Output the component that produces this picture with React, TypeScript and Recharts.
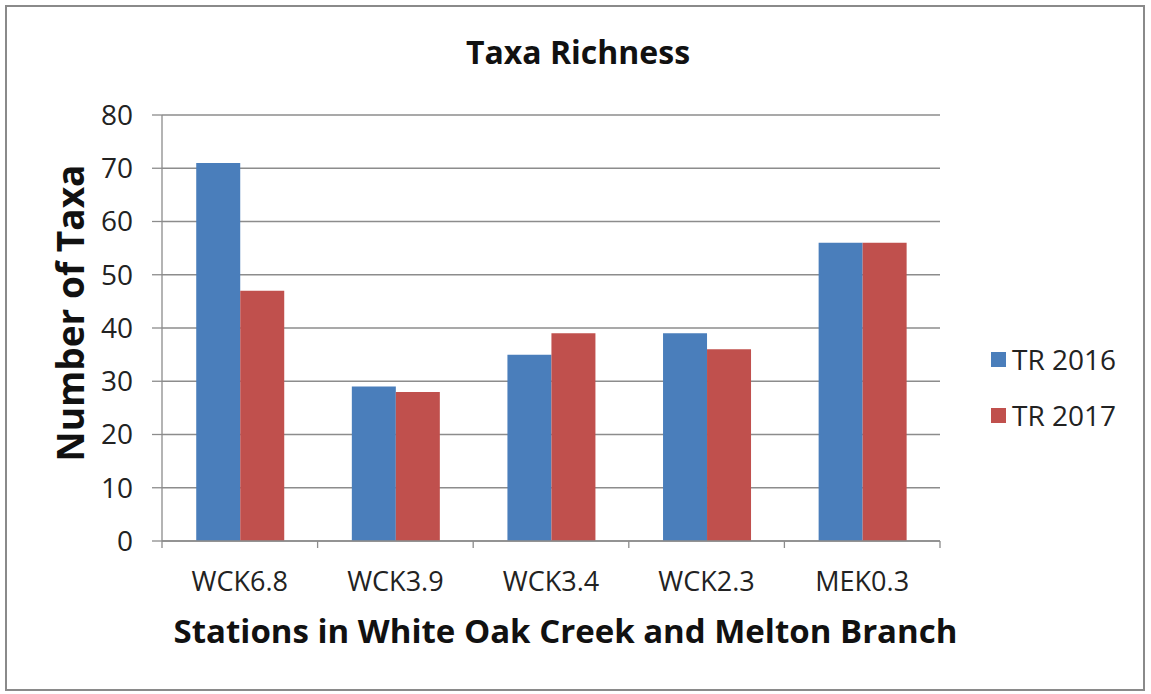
import React from 'react';
import { BarChart, Bar, XAxis, YAxis, CartesianGrid, Legend } from 'recharts';

const stations = ['WCK6.8', 'WCK3.9', 'WCK3.4', 'WCK2.3', 'MEK0.3'];
const tr2016 = [71, 29, 35, 39, 56];
const tr2017 = [47, 28, 39, 36, 56];
const yTicks = [0, 10, 20, 30, 40, 50, 60, 70, 80];

const seriesNames = ['TR 2016', 'TR 2017'];
const seriesColors = ['#4A7EBB', '#C0504D'];

const data = stations.map((s, i) => ({ station: s, tr2016: tr2016[i], tr2017: tr2017[i] }));

const FONT = '"Open Sans", "Noto Sans", sans-serif';
const GRID = '#8C8C8C';
const X_TICK_SIZE = 7;
const X_TICK_MARGIN = 24;

const LegendContent = () => (
  <div style={{ fontFamily: FONT }}>
    {seriesNames.map((n, i) => (
      <div key={n} style={{ display: 'flex', alignItems: 'center', height: 56 }}>
        <span style={{ display: 'inline-block', width: 15, height: 15, background: seriesColors[i], marginRight: 6 }} />
        <span style={{ fontSize: 28, color: '#222' }}>{n}</span>
      </div>
    ))}
  </div>
);

const StationTick = (props: any) => {
  const { x, y, payload, index, visibleTicksCount } = props;
  const half = payload && payload.offset ? payload.offset : 0;
  const axisY = y - X_TICK_SIZE - X_TICK_MARGIN;
  const last = index === visibleTicksCount - 1;
  return (
    <g>
      <line x1={x - half} x2={x - half} y1={axisY} y2={axisY + X_TICK_SIZE} stroke={GRID} strokeWidth={1.3} />
      {last && <line x1={x + half} x2={x + half} y1={axisY} y2={axisY + X_TICK_SIZE} stroke={GRID} strokeWidth={1.3} />}
      <text x={x} y={y} dy="0.71em" textAnchor="middle" fill="#222" fontSize={27} fontFamily={FONT}>
        {payload.value}
      </text>
    </g>
  );
};

export default function App() {
  return (
    <div style={{ position: 'absolute', left: 0, top: 0, width: 1151, height: 694, background: '#fff', fontFamily: FONT }}>
      <div style={{ position: 'absolute', left: 5, top: 5, width: 1140, height: 686, border: '2px solid #8A8A8A', boxSizing: 'border-box' }} />
      <div style={{ position: 'absolute', left: 0, width: 1156, top: 30, textAlign: 'center', fontWeight: 700, fontSize: 32, color: '#111', lineHeight: '44px' }}>
        Taxa Richness
      </div>
      <div style={{ position: 'absolute', left: 0, width: 1131, top: 606, textAlign: 'center', fontWeight: 700, fontSize: 33, color: '#111', lineHeight: '50px' }}>
        Stations in White Oak Creek and Melton Branch
      </div>
      <div style={{ position: 'absolute', left: 70, top: 313, width: 0, height: 0 }}>
        <div style={{ position: 'absolute', left: -250, top: -25, width: 500, height: 50, lineHeight: '50px', textAlign: 'center', transform: 'rotate(-90deg)', fontWeight: 700, fontSize: 37, color: '#111' }}>
          Number of Taxa
        </div>
      </div>
      <div style={{ position: 'absolute', left: 0, top: 0 }}>
        <BarChart
          width={1151}
          height={694}
          data={data}
          margin={{ top: 115, right: 211, bottom: 93, left: 0 }}
          barGap={0}
          barCategoryGap="22%"
        >
          <CartesianGrid horizontal vertical={false} stroke={GRID} strokeWidth={1.3} />
          <XAxis
            dataKey="station"
            height={60}
            tickLine={false}
            tickSize={X_TICK_SIZE}
            tickMargin={X_TICK_MARGIN}
            axisLine={{ stroke: GRID, strokeWidth: 1.3 }}
            tick={<StationTick />}
            interval={0}
          />
          <YAxis
            width={162}
            domain={[0, 80]}
            ticks={yTicks}
            interval={0}
            tickSize={10}
            tickMargin={19}
            axisLine={{ stroke: GRID, strokeWidth: 1.3 }}
            tickLine={{ stroke: GRID, strokeWidth: 1.3 }}
            tick={{ fill: '#222', fontSize: 28, fontFamily: FONT }}
          />
          <Legend
            layout="horizontal"
            align="center"
            verticalAlign="middle"
            content={<LegendContent />}
            wrapperStyle={{ position: 'absolute', left: 991, top: 331, width: 150 }}
          />
          <Bar dataKey="tr2016" name={seriesNames[0]} fill={seriesColors[0]} isAnimationActive={false} />
          <Bar dataKey="tr2017" name={seriesNames[1]} fill={seriesColors[1]} isAnimationActive={false} />
        </BarChart>
      </div>
    </div>
  );
}
